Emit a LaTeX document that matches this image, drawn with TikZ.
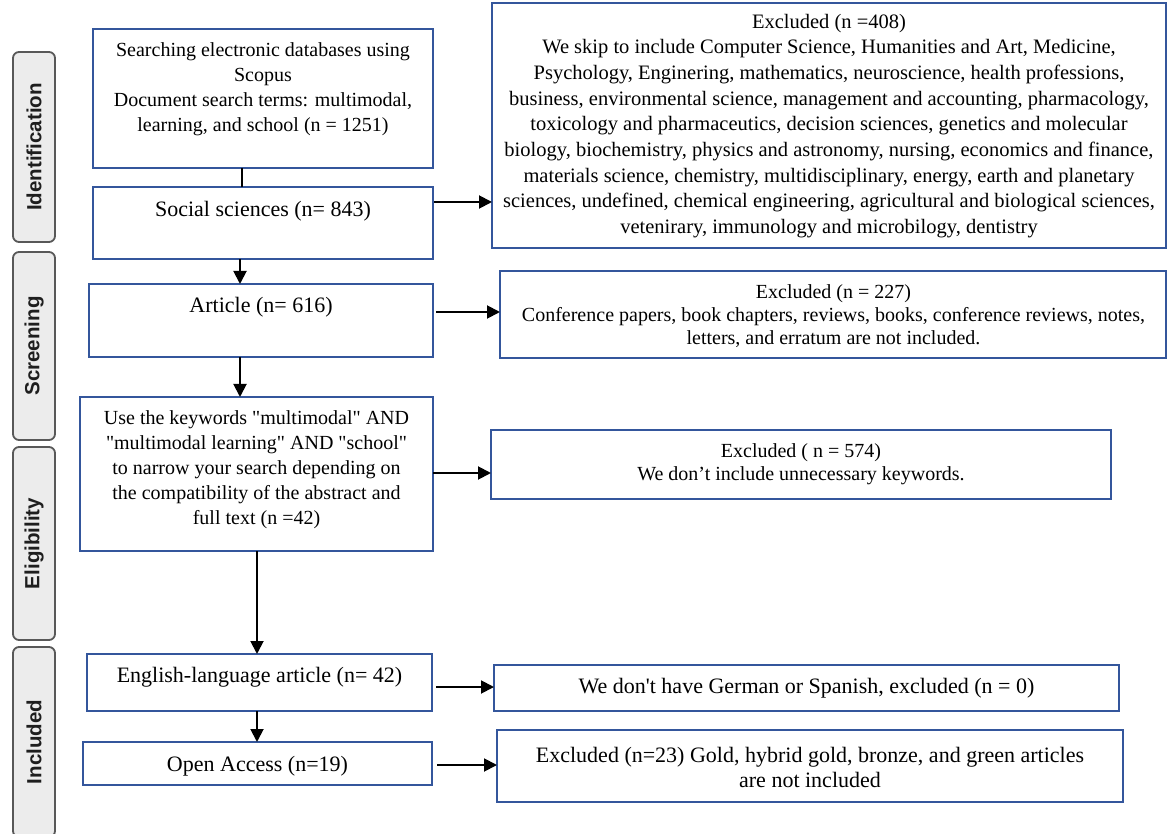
\documentclass[tikz,border=0pt]{standalone}
\usepackage{fontspec}
\setmainfont{Liberation Serif}
\newfontfamily\rawserif{Liberation Serif}
\newfontfamily\labfont{Liberation Sans}
\usetikzlibrary{arrows.meta}
\definecolor{boxblue}{RGB}{52,86,156}
\definecolor{labfill}{RGB}{236,236,236}
\definecolor{labdraw}{RGB}{88,88,88}
\definecolor{labtext}{RGB}{30,30,30}
\begin{document}
\begin{tikzpicture}[x=1pt,y=-1pt,
  pbox/.style={draw=boxblue,line width=1.8pt,inner sep=0pt,outer sep=0pt,anchor=north west,fill=white},
  lab/.style={draw=labdraw,fill=labfill,line width=1.8pt,rounded corners=6pt,inner sep=0pt,outer sep=0pt,anchor=north west},
  labtxt/.style={rotate=90,font=\labfont\bfseries\fontsize{20.5}{24}\selectfont,text=labtext,inner sep=0pt},
  tA/.style={align=center,inner sep=0pt,font=\rawserif\fontsize{20}{25}\selectfont},
  tB/.style={align=center,inner sep=0pt,font=\rawserif\fontsize{22}{25}\selectfont},
  tR/.style={align=center,inner sep=0pt,font=\rawserif\fontsize{20.5}{25.7}\selectfont},
  tS/.style={align=center,inner sep=0pt,font=\rawserif\fontsize{20}{23}\selectfont},
  arr/.style={line width=1.9pt,-{Triangle[length=13pt,width=13pt]}},
  link/.style={line width=1.9pt}]
\useasboundingbox (0,0) rectangle (1168,834);
\fill[white] (0,0) rectangle (1168,834);

% phase labels
\node[lab,minimum width=42pt,minimum height=190pt] (L1) at (13,52) {};
\node[lab,minimum width=42pt,minimum height=188pt] (L2) at (13,252) {};
\node[lab,minimum width=42pt,minimum height=193pt] (L3) at (13,447) {};
\node[lab,minimum width=42pt,minimum height=190pt] (L4) at (13,647) {};
\node[labtxt] (L1t) at (L1.center) {Identification};
\node[labtxt] (L2t) at (L2.center) {Screening};
\node[labtxt] (L3t) at (L3.center) {Eligibility};
\node[labtxt] (L4t) at (L4.center) {Included};

% left column boxes
\node[pbox,minimum width=340pt,minimum height=139pt] (s1) at (93,29) {};
\node[pbox,minimum width=340pt,minimum height=72pt] (soc) at (93,187) {};
\node[pbox,minimum width=344pt,minimum height=73pt] (art) at (89,284) {};
\node[pbox,minimum width=353pt,minimum height=154pt] (kw) at (80,397) {};
\node[pbox,minimum width=345pt,minimum height=57pt] (eng) at (87,654) {};
\node[pbox,minimum width=349pt,minimum height=43pt] (oa) at (83,742) {};

% right column boxes
\node[pbox,minimum width=674pt,minimum height=245pt] (r1) at (492,3) {};
\node[pbox,minimum width=666pt,minimum height=87pt] (r2) at (500,271) {};
\node[pbox,minimum width=620pt,minimum height=69pt] (r3) at (491,430) {};
\node[pbox,minimum width=625pt,minimum height=46pt] (r4) at (494,665) {};
\node[pbox,minimum width=626pt,minimum height=72pt] (r5) at (497,730) {};

% texts
\node[tA] (s1t) at (263,89.5) {Searching electronic databases using\\Scopus\\Document search terms: multimodal,\\learning, and school (n = 1251)};
\node[tB] (soct) at (263,211) {Social sciences (n= 843)};
\node[tB] (artt) at (261,307) {Article (n= 616)};
\node[tA] (kwt) at (256.5,469.5) {Use the keywords "multimodal" AND\\"multimodal learning" AND "school"\\to narrow your search depending on\\the compatibility of the abstract and\\full text (n =42)};
\node[tB] (engt) at (259.5,677) {English-language article (n= 42)};
\node[tB] (oat) at (257.5,766) {Open Access (n=19)};

\node[tR] (r1t) at (829,126) {Excluded (n =408)\\We skip to include Computer Science, Humanities and Art, Medicine,\\Psychology, Enginering, mathematics, neuroscience, health professions,\\business, environmental science, management and accounting, pharmacology,\\toxicology and pharmaceutics, decision sciences, genetics and molecular\\biology, biochemistry, physics and astronomy, nursing, economics and finance,\\materials science, chemistry, multidisciplinary, energy, earth and planetary\\sciences, undefined, chemical engineering, agricultural and biological sciences,\\vetenirary, immunology and microbilogy, dentistry};
\node[tS] (r2t) at (833.5,316) {Excluded (n = 227)\\Conference papers, book chapters, reviews, books, conference reviews, notes,\\letters, and erratum are not included.};
\node[tS] (r3t) at (801,464) {Excluded ( n = 574)\\We don’t include unnecessary keywords.};
\node[tB] (r4t) at (806.5,688) {We don't have German or Spanish, excluded (n = 0)};
\node[tB] (r5t) at (810,767) {Excluded (n=23) Gold, hybrid gold, bronze, and green articles\\are not included};

% connector positions
\coordinate (v1) at (242,0);
\coordinate (v2) at (240,0);
\coordinate (v3) at (257,0);
\coordinate (h1) at (0,202);
\coordinate (h2) at (0,312);
\coordinate (h3) at (0,473);
\coordinate (h4) at (0,687);
\coordinate (h5) at (0,765);

% vertical connectors
\draw[link] (s1.south -| v1) -- (soc.north -| v1);
\draw[arr] (soc.south -| v2) -- (art.north -| v2);
\draw[arr] (art.south -| v2) -- (kw.north -| v2);
\draw[arr] (kw.south -| v3) -- (eng.north -| v3);
\draw[arr] (eng.south -| v3) -- (oa.north -| v3);

% horizontal connectors
\draw[arr,shorten <=1pt] (soc.east |- h1) -- (r1.west |- h1);
\draw[arr,shorten <=3pt] (art.east |- h2) -- (r2.west |- h2);
\draw[arr] (kw.east |- h3) -- (r3.west |- h3);
\draw[arr,shorten <=4pt] (eng.east |- h4) -- (r4.west |- h4);
\draw[arr,shorten <=5pt] (oa.east |- h5) -- (r5.west |- h5);
\end{tikzpicture}
\end{document}
